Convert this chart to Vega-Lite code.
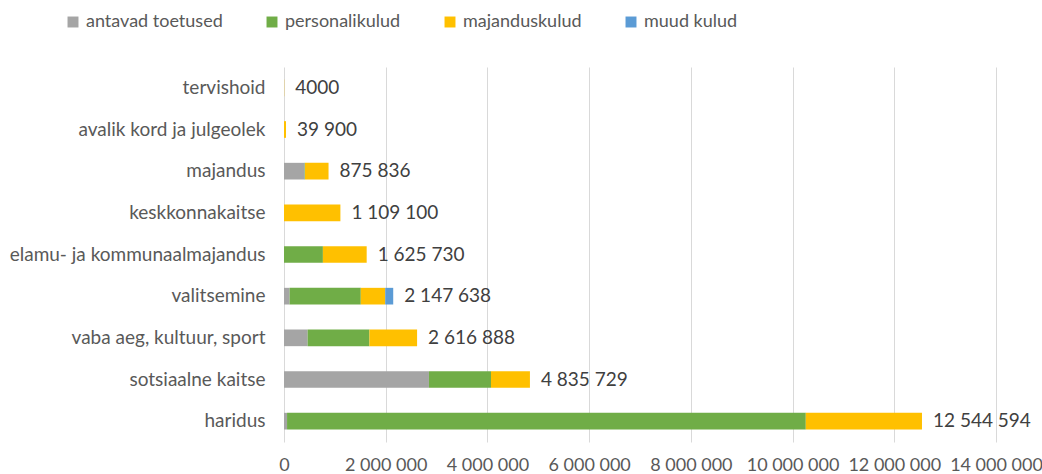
{
  "$schema": "https://vega.github.io/schema/vega-lite/v6.json",
  "width": 712,
  "height": 375,
  "autosize": "none",
  "padding": {"left": 284, "top": 67, "right": 46, "bottom": 32},
  "config": {
    "locale": {"number": {"decimal": ",", "thousands": " ", "grouping": [3], "currency": ["", " €"]}},
    "view": {"stroke": null},
    "font": "Lato"
  },
  "datasets": {
    "kulud": [
      {"valdkond": "tervishoid", "liik": "majanduskulud", "summa": 4000},
      {"valdkond": "avalik kord ja julgeolek", "liik": "majanduskulud", "summa": 39900},
      {"valdkond": "majandus", "liik": "antavad toetused", "summa": 405000},
      {"valdkond": "majandus", "liik": "personalikulud", "summa": 8000},
      {"valdkond": "majandus", "liik": "majanduskulud", "summa": 462836},
      {"valdkond": "keskkonnakaitse", "liik": "majanduskulud", "summa": 1109100},
      {"valdkond": "elamu- ja kommunaalmajandus", "liik": "personalikulud", "summa": 765000},
      {"valdkond": "elamu- ja kommunaalmajandus", "liik": "majanduskulud", "summa": 860730},
      {"valdkond": "valitsemine", "liik": "antavad toetused", "summa": 110000},
      {"valdkond": "valitsemine", "liik": "personalikulud", "summa": 1400000},
      {"valdkond": "valitsemine", "liik": "majanduskulud", "summa": 480000},
      {"valdkond": "valitsemine", "liik": "muud kulud", "summa": 157638},
      {"valdkond": "vaba aeg, kultuur, sport", "liik": "antavad toetused", "summa": 465000},
      {"valdkond": "vaba aeg, kultuur, sport", "liik": "personalikulud", "summa": 1215000},
      {"valdkond": "vaba aeg, kultuur, sport", "liik": "majanduskulud", "summa": 936888},
      {"valdkond": "sotsiaalne kaitse", "liik": "antavad toetused", "summa": 2850000},
      {"valdkond": "sotsiaalne kaitse", "liik": "personalikulud", "summa": 1220000},
      {"valdkond": "sotsiaalne kaitse", "liik": "majanduskulud", "summa": 765729},
      {"valdkond": "haridus", "liik": "antavad toetused", "summa": 60000},
      {"valdkond": "haridus", "liik": "personalikulud", "summa": 10200000},
      {"valdkond": "haridus", "liik": "majanduskulud", "summa": 2284594}
    ],
    "kokku": [
      {"valdkond": "tervishoid", "kokku": 4000, "silt": "4000"},
      {"valdkond": "avalik kord ja julgeolek", "kokku": 39900, "silt": "39 900"},
      {"valdkond": "majandus", "kokku": 875836, "silt": "875 836"},
      {"valdkond": "keskkonnakaitse", "kokku": 1109100, "silt": "1 109 100"},
      {"valdkond": "elamu- ja kommunaalmajandus", "kokku": 1625730, "silt": "1 625 730"},
      {"valdkond": "valitsemine", "kokku": 2147638, "silt": "2 147 638"},
      {"valdkond": "vaba aeg, kultuur, sport", "kokku": 2616888, "silt": "2 616 888"},
      {"valdkond": "sotsiaalne kaitse", "kokku": 4835729, "silt": "4 835 729"},
      {"valdkond": "haridus", "kokku": 12544594, "silt": "12 544 594"}
    ]
  },
  "encoding": {
    "y": {
      "field": "valdkond",
      "type": "nominal",
      "sort": ["tervishoid", "avalik kord ja julgeolek", "majandus", "keskkonnakaitse", "elamu- ja kommunaalmajandus", "valitsemine", "vaba aeg, kultuur, sport", "sotsiaalne kaitse", "haridus"],
      "title": null,
      "scale": {"paddingInner": 0.6, "paddingOuter": 0.3},
      "axis": {"domain": false, "ticks": false, "labelPadding": 19, "labelFontSize": 19, "labelLimit": 400, "labelColor": "#595959"}
    }
  },
  "layer": [
    {
      "data": {"name": "kulud"},
      "transform": [
        {"calculate": "indexof(['antavad toetused','personalikulud','majanduskulud','muud kulud'], datum.liik)", "as": "jrk"}
      ],
      "mark": {"type": "bar"},
      "encoding": {
        "x": {
          "field": "summa",
          "type": "quantitative",
          "stack": "zero",
          "scale": {"domain": [0, 14000000], "nice": false},
          "axis": {
            "values": [0, 2000000, 4000000, 6000000, 8000000, 10000000, 12000000, 14000000],
            "format": ",d",
            "grid": true,
            "gridColor": "#D9D9D9",
            "gridWidth": 1,
            "domain": false,
            "ticks": false,
            "labelFontSize": 18,
            "labelColor": "#595959",
            "labelPadding": 14,
            "labelFlush": false,
            "title": null
          }
        },
        "color": {
          "field": "liik",
          "type": "nominal",
          "scale": {
            "domain": ["antavad toetused", "personalikulud", "majanduskulud", "muud kulud"],
            "range": ["#A5A5A5", "#70AD47", "#FFC000", "#5B9BD5"]
          },
          "legend": {
            "orient": "none",
            "direction": "horizontal",
            "legendX": -220,
            "legendY": -54,
            "title": null,
            "symbolType": "square",
            "symbolSize": 120,
            "symbolStrokeWidth": 0,
            "labelFontSize": 18,
            "labelColor": "#595959",
            "labelOffset": 4,
            "columnPadding": 40
          }
        },
        "order": {"field": "jrk", "type": "quantitative"}
      }
    },
    {
      "data": {"name": "kokku"},
      "mark": {"type": "text", "align": "left", "baseline": "middle", "dx": 11, "fontSize": 19, "color": "#404040"},
      "encoding": {
        "x": {"field": "kokku", "type": "quantitative"},
        "text": {"field": "silt", "type": "nominal"}
      }
    }
  ]
}
